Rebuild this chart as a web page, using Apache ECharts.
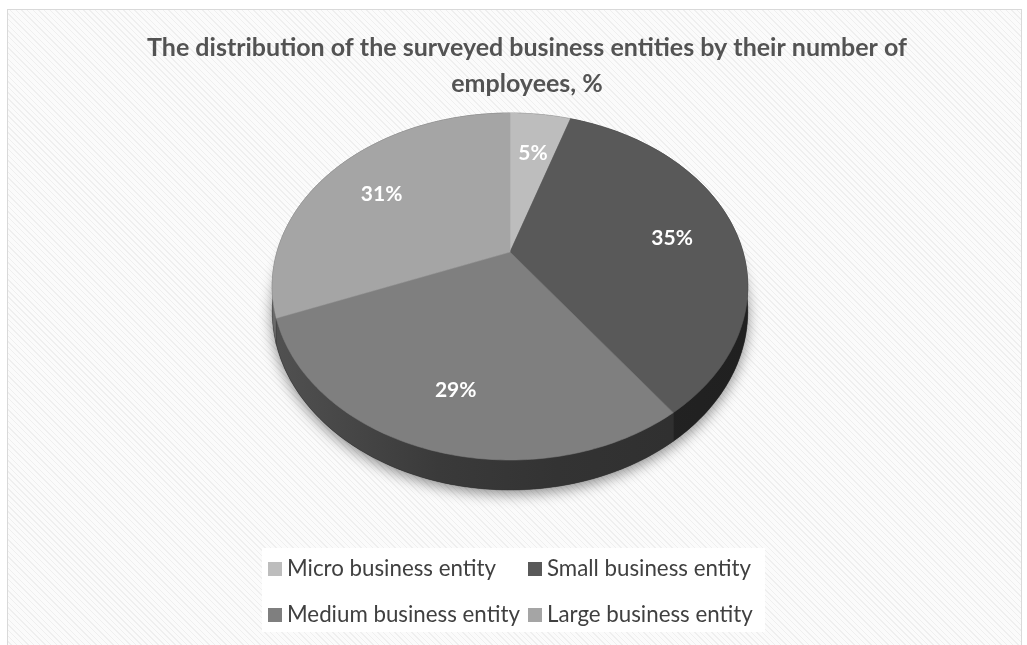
<!DOCTYPE html>
<html>
<head>
<meta charset="utf-8">
<script src="https://cdn.jsdelivr.net/npm/echarts@6/dist/echarts.min.js"></script>
<style>
  html, body { margin: 0; padding: 0; background: #ffffff; overflow: hidden; }
  #frame {
    position: absolute; left: 7px; top: 9px; width: 1013px; height: 700px;
    border: 1px solid #d9d9d9;
    background-color: #fbfbfb;
    background-image: repeating-linear-gradient(45deg, #efefef 0px, #efefef 1px, rgba(0,0,0,0) 1px, rgba(0,0,0,0) 4px);
  }
  #chart { position: absolute; left: 0; top: 0; width: 1027px; height: 645px; }
</style>
</head>
<body>
<div id="frame"></div>
<div id="chart"></div>
<script>
// Share of surveyed business entities by number of employees, %
const categories = ['Micro business entity', 'Small business entity', 'Medium business entity', 'Large business entity'];
const shares = [5, 35, 29, 31];
const sliceColors = ['#bdbdbd', '#595959', '#7f7f7f', '#a5a5a5'];
const titleText = 'The distribution of the surveyed business entities by their number of\nemployees, %';

const total = shares.reduce((a, b) => a + b, 0);
const starts = shares.map((_, i) => shares.slice(0, i).reduce((a, b) => a + b, 0));

// Tilted-disc projection: angles run clockwise from 12 o'clock,
// the near edge is enlarged slightly to give a perspective look.
const geo = {
  cx: 510 / 1027, cy: 252 / 645,
  rx: 233 / 1027, ry: 166.6 / 645,
  persp: 0.199, depth: 24 / 645, labelR: 0.72, labelDy: 5
};

function project(W, H, theta, r, drop) {
  const u = r * Math.sin(theta);
  const v = -r * Math.cos(theta);
  const w = 1 - geo.persp * v;
  return [geo.cx * W + geo.rx * W * u / w, geo.cy * H + (geo.ry * H * v + drop * H) / w];
}

function arc(W, H, a0, a1, drop) {
  const n = Math.max(2, Math.ceil((a1 - a0) / (Math.PI / 180)));
  const pts = [];
  for (let j = 0; j <= n; j++) pts.push(project(W, H, a0 + (a1 - a0) * j / n, 1, drop));
  return pts;
}

function shade(hex, f) {
  const c = parseInt(hex.slice(1), 16);
  const ch = s => Math.round(((c >> s) & 255) * f);
  return 'rgb(' + ch(16) + ',' + ch(8) + ',' + ch(0) + ')';
}

function renderSlice(params, api) {
  const i = params.seriesIndex;
  const W = api.getWidth(), H = api.getHeight();
  const val = api.value(0);
  const a0 = starts[i] / total * Math.PI * 2;
  const a1 = a0 + val / total * Math.PI * 2;
  const color = sliceColors[i];
  const children = [];

  if (i === 0) {
    // soft drop shadow under the whole disc
    children.push({
      type: 'polygon', z2: 0, silent: true,
      shape: { points: arc(W, H, 0, Math.PI * 2, geo.depth) },
      style: { fill: '#303030', shadowBlur: 14, shadowOffsetY: 4, shadowColor: 'rgba(0,0,0,0.45)' }
    });
  }

  // outer rim (extruded side)
  const topArc = arc(W, H, a0, a1, 0);
  const bottomArc = arc(W, H, a0, a1, geo.depth).reverse();
  const xl = geo.cx * W - geo.rx * W * 1.02, xr = geo.cx * W + geo.rx * W * 1.02;
  children.push({
    type: 'polygon', z2: 1, silent: true,
    shape: { points: topArc.concat(bottomArc) },
    style: {
      fill: new echarts.graphic.LinearGradient(xl, 0, xr, 0, [
        { offset: 0, color: shade(color, 0.64) },
        { offset: 0.35, color: shade(color, 0.46) },
        { offset: 0.6, color: shade(color, 0.4) },
        { offset: 1, color: shade(color, 0.36) }
      ], true),
      stroke: shade(color, 0.4), lineWidth: 0.5
    }
  });

  // top face
  const c = project(W, H, 0, 0, 0);
  children.push({
    type: 'polygon', z2: 10,
    shape: { points: [c].concat(topArc) },
    style: { fill: color, stroke: color, lineWidth: 0.6 }
  });

  // value label
  const mid = (a0 + a1) / 2;
  const lp = project(W, H, mid, geo.labelR, 0);
  children.push({
    type: 'text', z2: 20, silent: true,
    x: lp[0], y: lp[1] + geo.labelDy,
    style: {
      text: val + '%', fill: '#ffffff',
      fontFamily: 'Lato', fontWeight: 'bold', fontSize: 21,
      align: 'center', verticalAlign: 'middle',
      textAlign: 'center', textVerticalAlign: 'middle'
    }
  });

  return { type: 'group', children: children };
}

const chart = echarts.init(document.getElementById('chart'), null, { renderer: 'canvas' });

const legendCommon = {
  orient: 'vertical',
  icon: 'rect', itemWidth: 14, itemHeight: 14, itemGap: 22,
  selectedMode: false,
  textStyle: { fontFamily: 'Lato', fontSize: 22.3, color: '#404040', lineHeight: 24 },
  padding: 0
};

chart.setOption({
  backgroundColor: 'transparent',
  animation: false,
  title: {
    text: titleText,
    left: 522, top: 25,
    textAlign: 'center',
    textStyle: { fontFamily: 'Lato', fontWeight: 'bold', fontSize: 25, color: '#535353', lineHeight: 36 }
  },
  graphic: [{
    type: 'rect', left: 262, top: 548, z: -1, silent: true,
    shape: { width: 503, height: 84 },
    style: { fill: '#ffffff' }
  }],
  legend: [
    Object.assign({}, legendCommon, { left: 268, top: 557, data: [categories[0], categories[2]] }),
    Object.assign({}, legendCommon, { left: 528, top: 557, data: [categories[1], categories[3]] })
  ],
  series: categories.map((name, i) => ({
    type: 'custom',
    name: name,
    coordinateSystem: 'none',
    itemStyle: { color: sliceColors[i] },
    data: [[shares[i]]],
    renderItem: renderSlice
  }))
});
</script>
</body>
</html>
